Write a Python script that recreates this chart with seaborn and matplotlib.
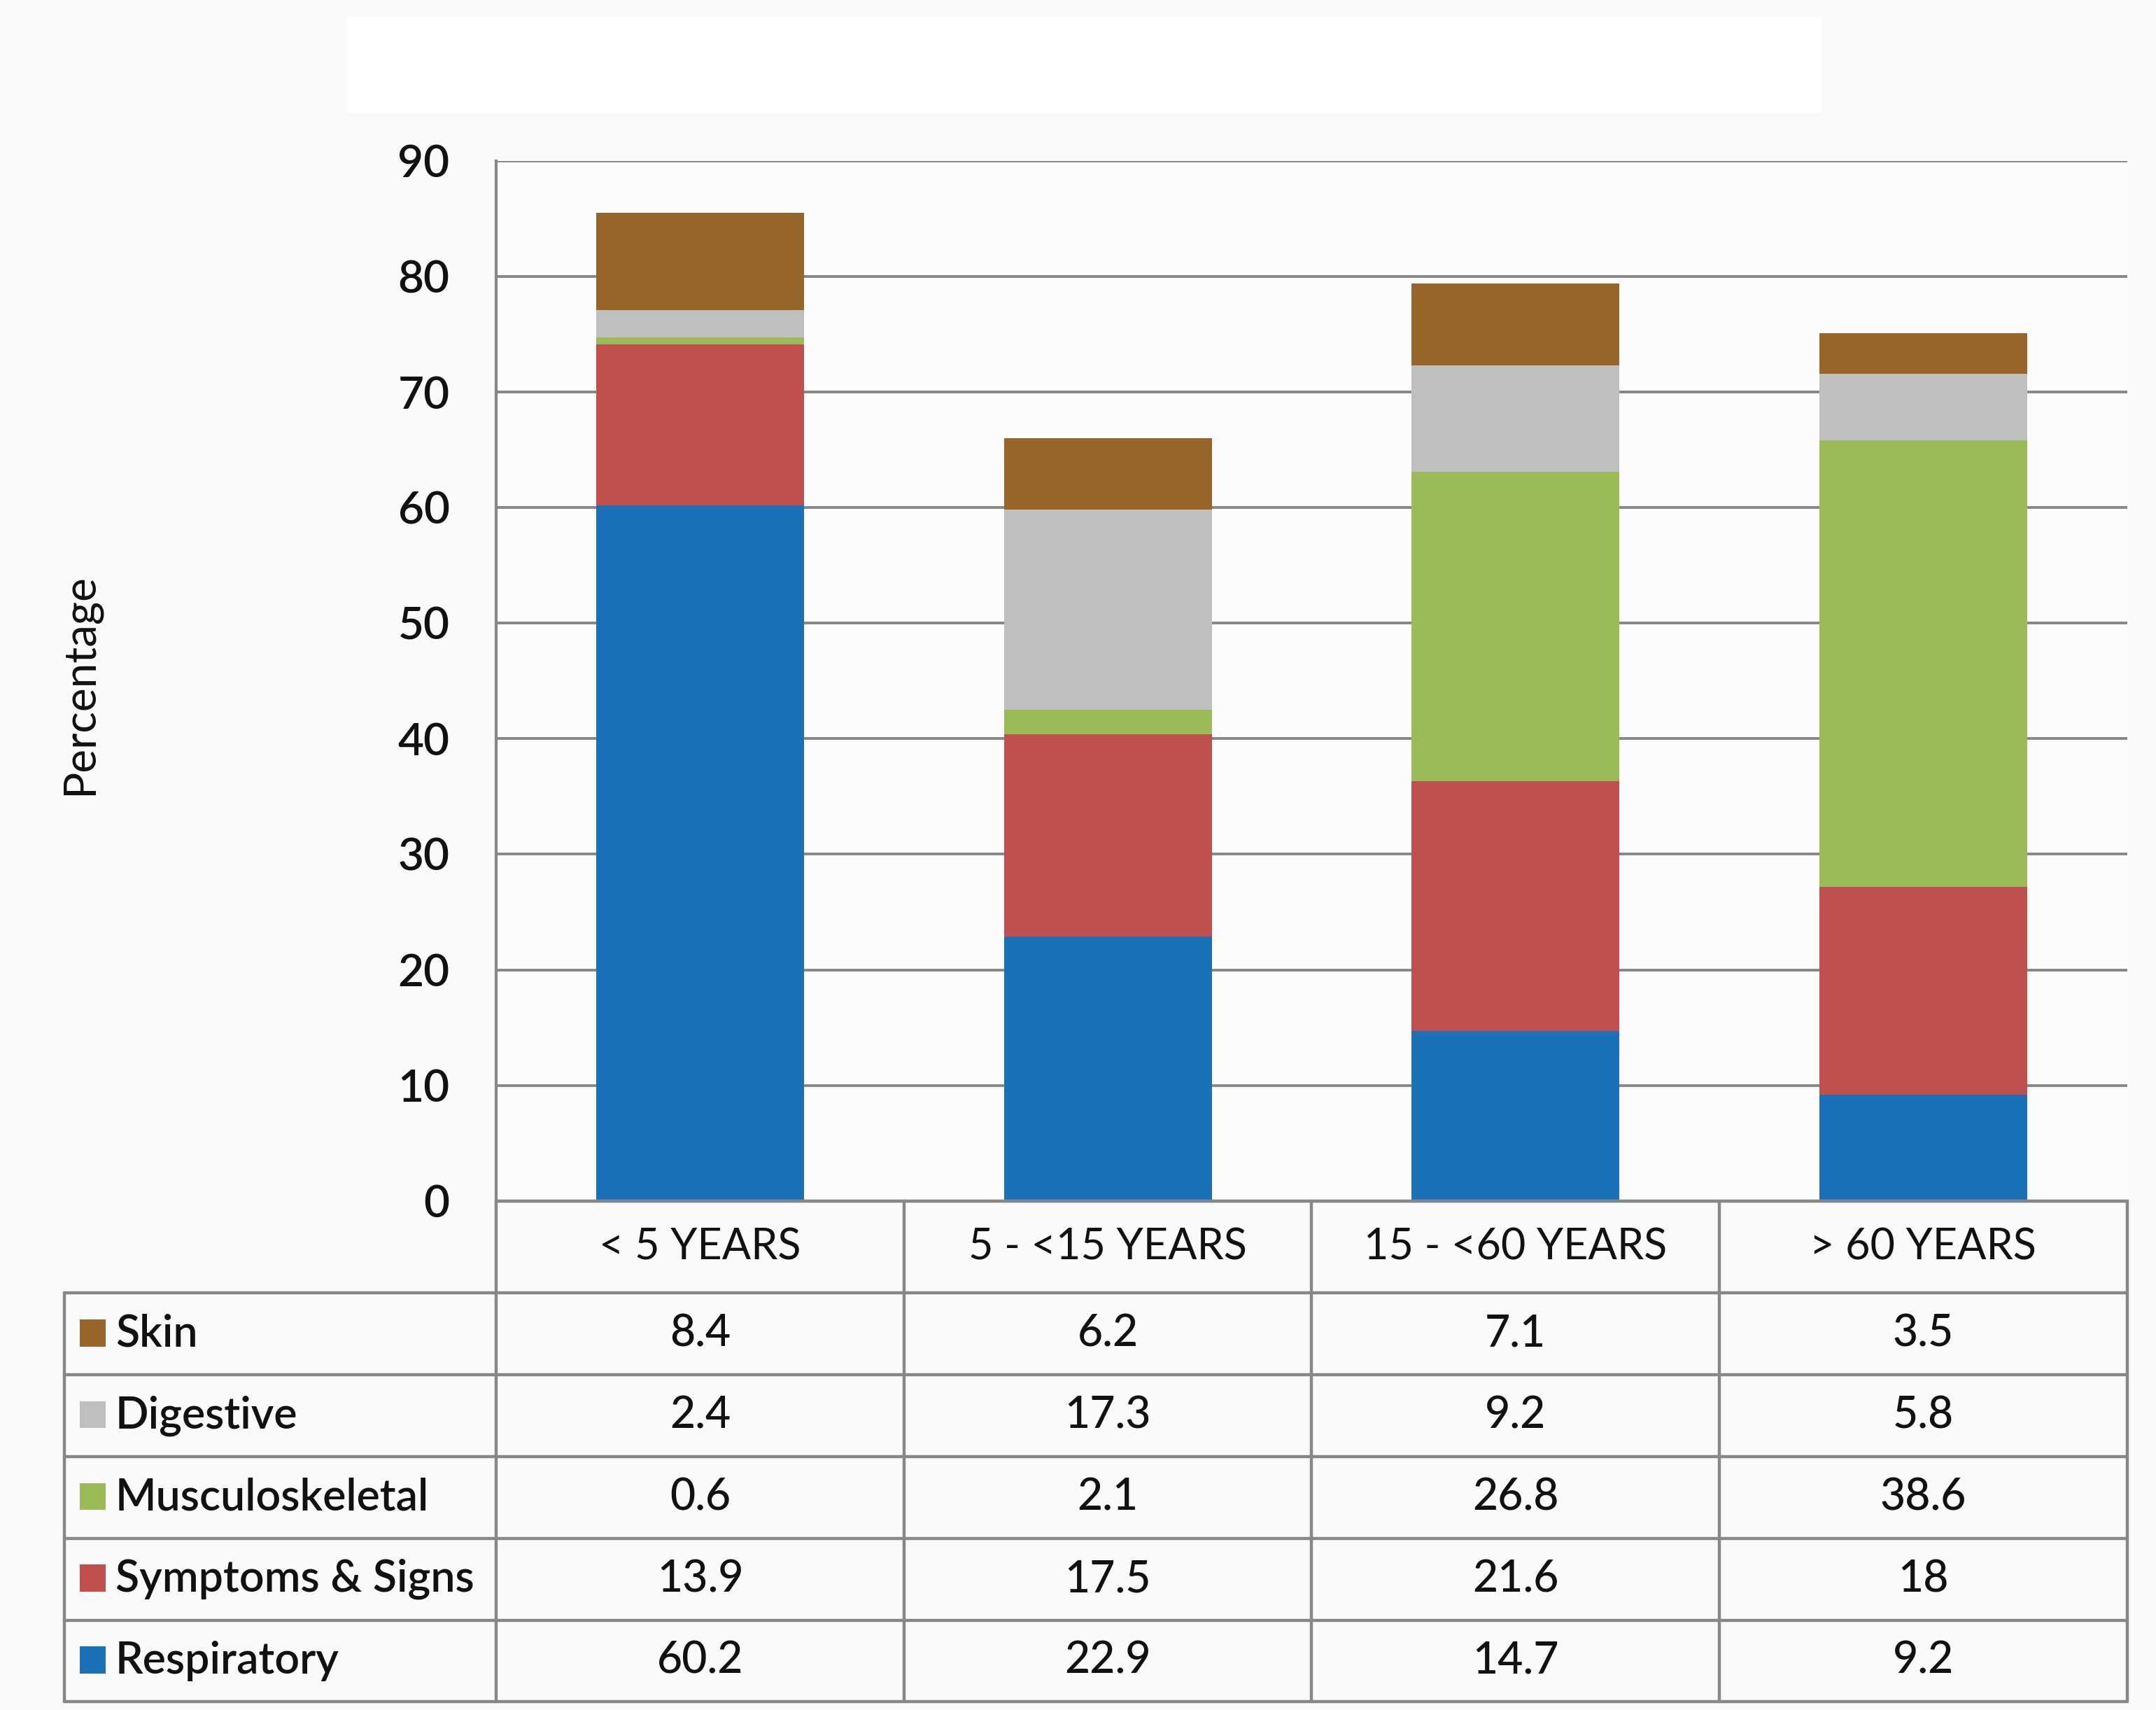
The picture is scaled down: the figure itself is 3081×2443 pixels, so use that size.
import matplotlib
matplotlib.use('Agg')
import matplotlib.pyplot as plt
import seaborn as sns
import numpy as np
from matplotlib.patches import Rectangle

age_groups = ['< 5 YEARS', '5 - <15 YEARS', '15 - <60 YEARS', '> 60 YEARS']

# stacking order, bottom to top
categories = ['Respiratory', 'Symptoms & Signs', 'Musculoskeletal', 'Digestive', 'Skin']
respiratory = [60.2, 22.9, 14.7, 9.2]
symptoms_signs = [13.9, 17.5, 21.6, 18]
musculoskeletal = [0.6, 2.1, 26.8, 38.6]
digestive = [2.4, 17.3, 9.2, 5.8]
skin = [8.4, 6.2, 7.1, 3.5]
colors = ['#1b71b8', '#c0504d', '#9bbb59', '#bfbfbf', '#98662a']

series = [respiratory, symptoms_signs, musculoskeletal, digestive, skin]
yticks = list(range(0, 100, 10))

sns.set_style('white')
plt.rcParams['font.family'] = ['Lato', 'DejaVu Sans']
text_color = '#111111'
line_color = '#878787'

fig = plt.figure(figsize=(15.405, 12.215), dpi=200, facecolor='#fafafa')
# blank title box
fig.patches.append(Rectangle((0.161, 0.934), 0.684, 0.056, transform=fig.transFigure,
                             facecolor='white', edgecolor='none', zorder=0))

ax = fig.add_axes([0.2302, 0.2977, 0.7564, 0.6082])
ax.set_facecolor('#fcfcfc')

bottom = np.zeros(len(age_groups))
for name, vals, c in zip(categories, series, colors):
    sns.barplot(x=age_groups, y=vals, bottom=bottom, color=c, width=0.51,
                saturation=1, errorbar=None, linewidth=0, ax=ax)
    bottom = bottom + np.array(vals)

ax.set_ylim(0, 90)
ax.set_xlim(-0.5, len(age_groups) - 0.5)
ax.set_yticks(yticks)
ax.set_yticklabels([str(t) for t in yticks], fontsize=23, color=text_color,
                   fontweight='semibold')
ax.tick_params(axis='y', length=0, pad=24)
ax.set_xticks([])
ax.set_xlabel('')
ax.set_ylabel('')
ax.yaxis.grid(True, color=line_color, lw=1.4)
ax.set_axisbelow(True)
for s in ['top', 'right']:
    ax.spines[s].set_visible(False)
for s in ['left', 'bottom']:
    ax.spines[s].set_color(line_color)
    ax.spines[s].set_linewidth(1.5)

fig.text(0.037, 0.60, 'Percentage', rotation=90, fontsize=23, color=text_color,
         ha='center', va='center')

# data table under the chart
header_h = 0.0886
row_h = 0.0786
left_x = -0.2648
n_rows = len(categories)
table_bottom = -header_h - n_rows * row_h
lkw = dict(color=line_color, lw=1.6, transform=ax.transAxes, clip_on=False)

ax.plot([0, 1], [0, 0], **lkw)
for i in range(n_rows + 1):
    y = -header_h - i * row_h
    ax.plot([left_x, 1], [y, y], **lkw)
for xv in [0, 0.25, 0.5, 0.75, 1]:
    ax.plot([xv, xv], [0, table_bottom], **lkw)
ax.plot([left_x, left_x], [-header_h, table_bottom], **lkw)

xtr = ax.get_xaxis_transform()
for i, g in enumerate(age_groups):
    ax.text(i, -header_h / 2, g, transform=xtr, ha='center', va='center',
            fontsize=22, color=text_color, clip_on=False)

table_order = list(range(n_rows))[::-1]
for r, k in enumerate(table_order):
    yc = -header_h - (r + 0.5) * row_h
    ax.add_patch(Rectangle((-0.2555, yc - 0.012), 0.016, 0.026, transform=ax.transAxes,
                           facecolor=colors[k], edgecolor='none', clip_on=False))
    ax.text(-0.2336, yc, categories[k], transform=ax.transAxes, ha='left', va='center',
            fontsize=22.5, color=text_color, fontweight='semibold', clip_on=False)
    for i, v in enumerate(series[k]):
        ax.text(i, yc, f'{v:g}', transform=xtr, ha='center', va='center',
                fontsize=22.5, color=text_color, fontweight='medium', clip_on=False)

fig.savefig('out.png', dpi=200, facecolor=fig.get_facecolor())
